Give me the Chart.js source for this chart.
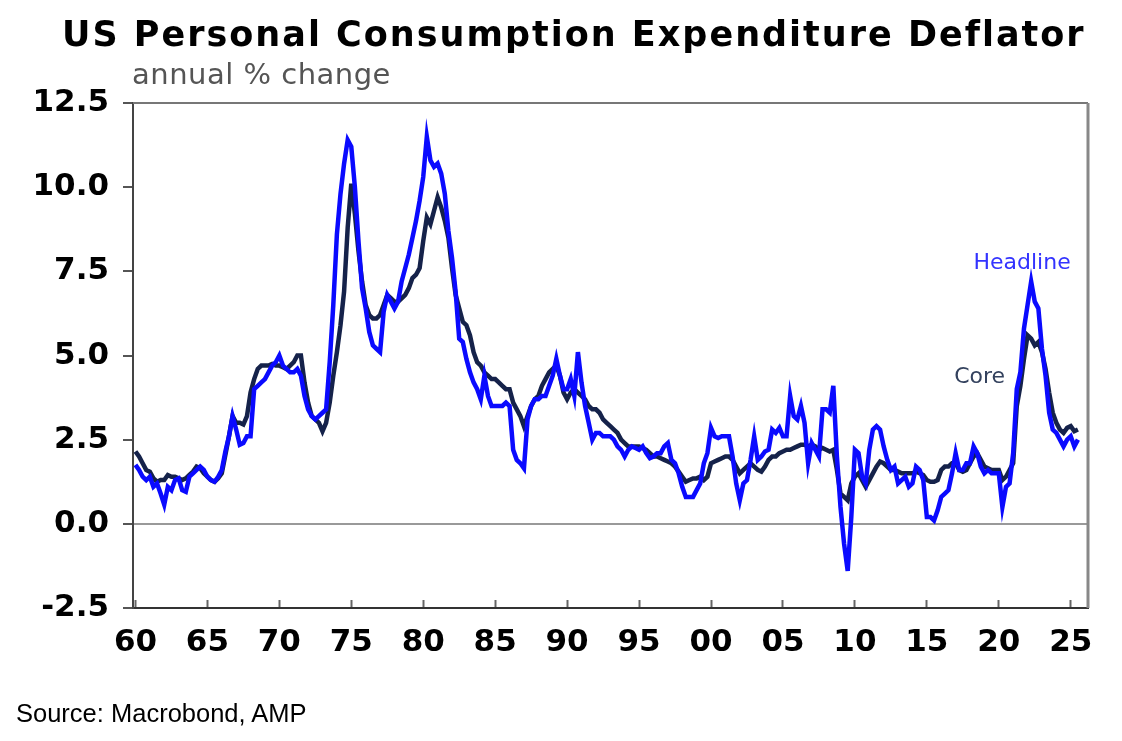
<!DOCTYPE html>
<html lang="en">
<head>
<meta charset="UTF-8">
<title>US Personal Consumption Expenditure Deflator</title>
<script src="https://cdn.jsdelivr.net/npm/chart.js"></script>
<style>
  html, body { margin: 0; padding: 0; background: #fff; }
  #wrap { position: relative; width: 1122px; height: 741px; overflow: hidden; }
  #chart { position: absolute; left: 0; top: 0; }
  .txt { position: absolute; white-space: nowrap; line-height: 1; }
  #title { left: 62px; top: 14px; font: bold 35px "DejaVu Sans"; letter-spacing: 2px; color: #000; }
  #subtitle { left: 132px; top: 57px; font: 29px "DejaVu Sans"; letter-spacing: 0.5px; color: #555; }
  #source { left: 16px; top: 699px; font: 25.5px "Liberation Sans"; color: #000; }
</style>
</head>
<body>
<div id="wrap">
  <canvas id="chart" width="1122" height="741"></canvas>
  <div id="title" class="txt">US Personal Consumption Expenditure Deflator</div>
  <div id="subtitle" class="txt">annual % change</div>
  <div id="source" class="txt">Source: Macrobond, AMP</div>
</div>

<script>
// quarterly readings, first value = 1960 Q1
const startYear = 1960;
const perYear = 4;

const headline = [
  1.75, 1.6, 1.4, 1.3,   1.4, 1.1, 1.2, 0.9,   0.57, 1.1, 1.0, 1.3,   1.35, 1.0, 0.95, 1.4,
  1.5, 1.6, 1.7, 1.6,    1.4, 1.3, 1.25, 1.4,  1.6, 2.15, 2.6, 3.2,   2.8, 2.35, 2.4, 2.6,
  2.6, 4.0, 4.1, 4.2,    4.3, 4.5, 4.7, 4.8,   5.0, 4.7, 4.6, 4.5,    4.5, 4.6, 4.4, 3.8,
  3.4, 3.2, 3.1, 3.2,    3.3, 3.4, 4.8, 6.5,   8.6, 9.8, 10.7, 11.4,  11.2, 10.0, 8.4, 7.0,
  6.4, 5.7, 5.3, 5.2,    5.1, 6.3, 6.8, 6.6,   6.4, 6.6, 7.2, 7.6,    8.0, 8.5, 9.0, 9.6,
  10.3, 11.5, 10.8, 10.6, 10.7, 10.4, 9.8, 8.7, 7.9, 6.9, 5.5, 5.4,  4.9, 4.5, 4.2, 4.0,
  3.7, 4.4, 3.8, 3.5,    3.5, 3.5, 3.5, 3.6,   3.5, 2.2, 1.9, 1.8,    1.65, 3.1, 3.5, 3.7,
  3.7, 3.8, 3.8, 4.1,    4.4, 4.9, 4.4, 4.0,   4.0, 4.3, 3.8, 5.1,    4.2, 3.5, 3.0, 2.5,
  2.7, 2.7, 2.6, 2.6,    2.6, 2.5, 2.3, 2.2,   2.0, 2.2, 2.3, 2.25,   2.2, 2.3, 2.1, 1.95,
  2.0, 2.1, 2.1, 2.3,    2.4, 1.9, 1.8, 1.5,   1.1, 0.8, 0.8, 0.8,    1.0, 1.2, 1.8, 2.1,
  2.85, 2.6, 2.55, 2.6,  2.6, 2.6, 2.0, 1.2,   0.7, 1.2, 1.3, 1.9,    2.6, 1.9, 2.0, 2.15,
  2.2, 2.8, 2.7, 2.85,   2.6, 2.6, 3.8, 3.2,   3.1, 3.5, 3.0, 1.8,    2.4, 2.2, 2.0, 3.4,
  3.4, 3.3, 4.1, 2.0,    0.5, -0.6, -1.4, 0.2, 2.2, 2.1, 1.4, 1.2,    2.2, 2.8, 2.9, 2.8,
  2.3, 1.9, 1.6, 1.7,    1.2, 1.3, 1.4, 1.1,   1.2, 1.7, 1.6, 1.3,    0.2, 0.2, 0.1, 0.4,
  0.8, 0.9, 1.0, 1.5,    2.1, 1.6, 1.6, 1.8,   1.8, 2.3, 2.1, 1.7,    1.5, 1.6, 1.5, 1.5,
  1.5, 0.5, 1.1, 1.2,    2.1, 4.0, 4.5, 5.8,   6.5, 7.2, 6.6, 6.4,    5.2, 4.4, 3.3, 2.8,
  2.7, 2.5, 2.3, 2.5,    2.6, 2.3, 2.5
];

const core = [
  2.15, 2.0, 1.8, 1.6,   1.55, 1.35, 1.25, 1.3, 1.3, 1.45, 1.4, 1.4,  1.35, 1.3, 1.35, 1.45,
  1.55, 1.7, 1.65, 1.5,  1.4, 1.3, 1.25, 1.35,  1.5, 2.05, 2.6, 3.2,   3.0, 3.0, 2.95, 3.2,
  3.9, 4.3, 4.6, 4.7,    4.7, 4.7, 4.75, 4.7,   4.7, 4.65, 4.6, 4.7,   4.8, 5.0, 5.0, 4.2,
  3.6, 3.2, 3.1, 3.0,    2.75, 3.0, 3.6, 4.4,   5.1, 5.9, 6.9, 8.8,    10.1, 9.2, 8.1, 7.2,
  6.5, 6.2, 6.1, 6.1,    6.2, 6.5, 6.8, 6.7,    6.6, 6.6, 6.7, 6.8,    7.0, 7.3, 7.4, 7.6,
  8.4, 9.1, 8.9, 9.3,    9.7, 9.4, 9.0, 8.5,    7.6, 6.8, 6.4, 6.0,    5.9, 5.6, 5.1, 4.8,
  4.7, 4.5, 4.4, 4.3,    4.3, 4.2, 4.1, 4.0,    4.0, 3.6, 3.4, 3.2,    2.9, 3.2, 3.5, 3.7,
  3.8, 4.1, 4.3, 4.5,    4.6, 4.7, 4.4, 3.9,    3.7, 3.9, 4.0, 3.9,    3.8, 3.7, 3.5, 3.4,
  3.4, 3.3, 3.1, 3.0,    2.9, 2.8, 2.7, 2.5,    2.4, 2.3, 2.3, 2.3,    2.3, 2.25, 2.2, 2.1,
  2.0, 2.0, 1.95, 1.9,   1.85, 1.8, 1.7, 1.55,  1.4, 1.25, 1.3, 1.35,  1.35, 1.4, 1.3, 1.4,
  1.8, 1.85, 1.9, 1.95,  2.0, 2.0, 1.9, 1.7,    1.5, 1.6, 1.7, 1.8,    1.7, 1.6, 1.55, 1.7,
  1.9, 2.0, 2.0, 2.1,    2.15, 2.2, 2.2, 2.25,  2.3, 2.35, 2.35, 2.3,  2.35, 2.3, 2.2, 2.25,
  2.2, 2.15, 2.2, 1.6,   0.9, 0.8, 0.7, 1.2,    1.4, 1.5, 1.3, 1.1,    1.3, 1.5, 1.7, 1.85,
  1.8, 1.7, 1.6, 1.6,    1.55, 1.5, 1.5, 1.5,   1.5, 1.55, 1.5, 1.45,  1.3, 1.25, 1.25, 1.3,
  1.6, 1.7, 1.7, 1.8,    1.8, 1.6, 1.55, 1.6,   1.8, 2.0, 2.1, 1.9,    1.7, 1.65, 1.6, 1.6,
  1.6, 1.3, 1.4, 1.6,    1.8, 3.5, 4.1, 4.9,    5.6, 5.5, 5.3, 5.4,    5.1, 4.6, 3.9, 3.3,
  3.0, 2.8, 2.7, 2.85,   2.9, 2.75, 2.8
];

const xTicks = [1960, 1965, 1970, 1975, 1980, 1985, 1990, 1995, 2000, 2005, 2010, 2015, 2020, 2025];
const yTicks = [-2.5, 0, 2.5, 5, 7.5, 10, 12.5];

// line end labels: [text, year, value, colour]
const seriesLabels = [
  ['Headline', 2018.24, 7.56, '#3333ff'],
  ['Core', 2016.9, 4.17, '#34425e']
];

function toPoints(arr) {
  return arr.map((v, i) => ({ x: startYear + i / perYear, y: v }));
}

const framePlugin = {
  id: 'frame',
  beforeDatasetsDraw(chart) {
    const { ctx, chartArea: a } = chart;
    ctx.save();
    ctx.strokeStyle = '#777';
    ctx.lineWidth = 2;
    ctx.beginPath();
    ctx.moveTo(a.left, a.top);
    ctx.lineTo(a.right, a.top);
    ctx.stroke();
    ctx.strokeStyle = '#888';
    ctx.lineWidth = 3;
    ctx.beginPath();
    ctx.moveTo(a.right, a.top);
    ctx.lineTo(a.right, a.bottom);
    ctx.stroke();
    ctx.restore();
  }
};

const labelPlugin = {
  id: 'seriesLabels',
  afterDatasetsDraw(chart) {
    const { ctx, scales } = chart;
    ctx.save();
    ctx.font = '22px "DejaVu Sans"';
    ctx.textAlign = 'left';
    ctx.textBaseline = 'alphabetic';
    seriesLabels.forEach(([t, yr, v, c]) => {
      ctx.fillStyle = c;
      ctx.fillText(t, scales.x.getPixelForValue(yr), scales.y.getPixelForValue(v));
    });
    ctx.restore();
  }
};

const tickFont = { family: 'DejaVu Sans', size: 31, weight: 'bold' };

new Chart(document.getElementById('chart'), {
  type: 'line',
  data: {
    datasets: [
      { label: 'Headline', data: toPoints(headline), borderColor: '#0a0aff', borderWidth: 4.5,
        pointRadius: 0, tension: 0, order: 1 },
      { label: 'Core', data: toPoints(core), borderColor: '#15224a', borderWidth: 4.5,
        pointRadius: 0, tension: 0, order: 2 }
    ]
  },
  options: {
    responsive: false,
    animation: false,
    layout: { padding: { left: 0, top: 103, right: 34, bottom: 0 } },
    plugins: { legend: { display: false }, tooltip: { enabled: false } },
    scales: {
      x: {
        type: 'linear',
        min: 1959.83,
        max: 2026.2,
        afterBuildTicks: s => { s.ticks = xTicks.map(v => ({ value: v })); },
        afterFit: s => { s.height = 133; },
        ticks: {
          font: tickFont, color: '#000', padding: 24, maxRotation: 0, autoSkip: false,
          callback: v => String(v % 100).padStart(2, '0')
        },
        grid: { drawOnChartArea: false, tickLength: -8, tickColor: '#666', tickWidth: 2 },
        border: { color: '#333', width: 2 }
      },
      y: {
        min: -2.5,
        max: 12.5,
        afterBuildTicks: s => { s.ticks = yTicks.map(v => ({ value: v })); },
        afterFit: s => { s.width = 133; },
        ticks: { font: tickFont, color: '#000', padding: 14, callback: v => v.toFixed(1) },
        grid: {
          color: c => (c.tick && c.tick.value === 0 ? '#999' : 'transparent'),
          lineWidth: 2, tickColor: '#555', tickLength: 10, tickWidth: 2
        },
        border: { color: '#444', width: 2 }
      }
    }
  },
  plugins: [framePlugin, labelPlugin]
});
</script>
</body>
</html>
